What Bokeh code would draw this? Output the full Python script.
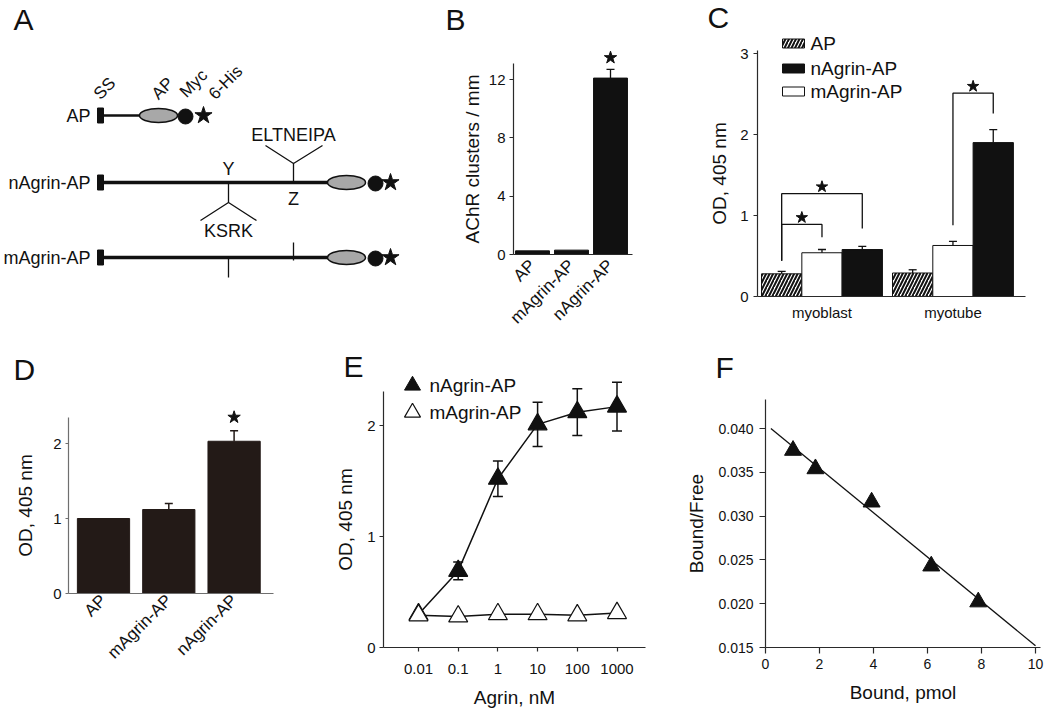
import math
from bokeh.plotting import figure
from bokeh.layouts import row, column
from bokeh.models import (Range1d, FixedTicker, NumeralTickFormatter,
                          LinearAxis, LogAxis)
from bokeh.core.properties import value
from bokeh.embed import file_html
from bokeh.resources import INLINE

FONT = "Liberation Sans"
INK = "#111111"
AXC = "#2a2a2a"

# ---------------- data ----------------
# Panel A (schematic of constructs)
constructs_A = ["AP", "nAgrin-AP", "mAgrin-AP"]
domains_A = ["SS", "AP", "Myc", "6-His"]
insert_sites_A = ["Y", "Z"]
insert_seqs_A = ["KSRK", "ELTNEIPA"]

# Panel B
cats_B = ["AP", "mAgrin-AP", "nAgrin-AP"]
clusters_B = [0.25, 0.30, 12.1]
clusters_err_B = [0.0, 0.0, 0.6]
signif_B = [False, False, True]
yticks_B = [0, 4, 8, 12]

# Panel C
groups_C = ["myoblast", "myotube"]
legend_C = ["AP", "nAgrin-AP", "mAgrin-AP"]
od_AP_C = [0.28, 0.29]
od_m_C = [0.54, 0.63]
od_n_C = [0.58, 1.90]
err_AP_C = [0.03, 0.04]
err_m_C = [0.04, 0.05]
err_n_C = [0.04, 0.16]
sig_group_C = [0, 0, 1]
sig_from_C = ["AP", "AP", "mAgrin-AP"]
sig_to_C = ["mAgrin-AP", "nAgrin-AP", "nAgrin-AP"]
sig_from_low_C = [0.44, 0.44, 0.88]
sig_top_C = [0.89, 1.27, 2.51]
sig_to_low_C = [0.73, 0.84, 2.26]
yticks_C = [0, 1, 2, 3]

# Panel D
cats_D = ["AP", "mAgrin-AP", "nAgrin-AP"]
od_D = [1.00, 1.12, 2.03]
od_err_D = [0.0, 0.08, 0.14]
signif_D = [False, False, True]
yticks_D = [0, 1, 2]

# Panel E
conc_E = [0.01, 0.1, 1, 10, 100, 1000]
conc_labels_E = ["0.01", "0.1", "1", "10", "100", "1000"]
n_od_E = [0.30, 0.69, 1.52, 2.01, 2.12, 2.17]
n_err_E = [0.0, 0.08, 0.16, 0.20, 0.21, 0.22]
m_od_E = [0.29, 0.28, 0.30, 0.30, 0.29, 0.31]
yticks_E = [0, 1, 2]

# Panel F
bound_F = [1.02, 1.85, 3.93, 6.14, 7.88]
ratio_F = [0.0375, 0.0354, 0.0316, 0.0243, 0.0202]
fit_x_F = [0.2, 10.0]
fit_y_F = [0.0400, 0.0152]
xticks_F = [0, 2, 4, 6, 8, 10]
yticks_F = [0.015, 0.020, 0.025, 0.030, 0.035, 0.040]


# ---------------- helpers ----------------
class Map:
    """Page-pixel placement of a panel: box and scale of its axes."""
    def __init__(self, box, xv0, xpx0, xppu, yv0, ypx0, yppu, logx=False):
        self.box, self.logx = box, logx
        self.xv0, self.xpx0, self.xppu = xv0, xpx0, xppu
        self.yv0, self.ypx0, self.yppu = yv0, ypx0, yppu

    def x(self, px):
        v = self.xv0 + (px - self.xpx0) / self.xppu
        return 10 ** v if self.logx else v

    def y(self, py):
        return self.yv0 + (self.ypx0 - py) / self.yppu

    def fig(self):
        l, t, r, b = self.box
        p = figure(frame_width=r - l, frame_height=b - t,
                   x_range=Range1d(self.x(l), self.x(r)),
                   y_range=Range1d(self.y(b), self.y(t)),
                   x_axis_type="log" if self.logx else "linear",
                   x_axis_location=None, y_axis_location=None,
                   min_border=0, toolbar_location=None, output_backend="svg")
        for g in p.grid:
            g.visible = False
        p.outline_line_color = None
        p.background_fill_color = "white"
        p.border_fill_color = "white"
        return p


def style_axis(ax, color=AXC, tick_font="15px", label_font="19px"):
    ax.axis_line_color = color
    ax.axis_line_width = 1.2
    ax.major_tick_line_color = color
    ax.major_tick_line_width = 1.2
    ax.minor_tick_line_color = None
    ax.major_tick_in = 0
    ax.major_tick_out = 4
    ax.major_label_text_font = FONT
    ax.major_label_text_font_size = tick_font
    ax.major_label_text_color = INK
    ax.axis_label_text_font = FONT
    ax.axis_label_text_font_style = "normal"
    ax.axis_label_text_font_size = label_font
    ax.axis_label_text_color = INK


def add_axes(p, xloc, xbounds, yloc, ybounds, log=False, color=AXC, tick_font="15px"):
    xa = (LogAxis if log else LinearAxis)(fixed_location=xloc, bounds=xbounds)
    ya = LinearAxis(fixed_location=yloc, bounds=ybounds)
    style_axis(xa, color, tick_font)
    style_axis(ya, color, tick_font)
    p.add_layout(xa, "below")
    p.add_layout(ya, "left")
    return xa, ya


def txt(p, x, y, t, size="18px", align="center", baseline="middle", angle=0.0, **kw):
    p.text(x=x, y=y, text=t, text_font=value(FONT), text_font_size=value(size),
           text_align=align, text_baseline=baseline, text_color=INK,
           angle=angle, **kw)


def letter(p, m, t, px, py):
    txt(p, [m.x(px)], [m.y(py)], [t], size="30px", align="left", baseline="middle")


TOP_H = 348  # height of the upper row of panels

# ---------------- Panel A ----------------
pA = figure(frame_width=438, frame_height=TOP_H, x_range=Range1d(0, 438),
            y_range=Range1d(TOP_H, 0), x_axis_location=None, y_axis_location=None,
            min_border=0, toolbar_location=None, output_backend="svg")
for g in pA.grid:
    g.visible = False
pA.outline_line_color = None
row_y = [115, 182, 257]
txt(pA, [90] * 3, row_y, constructs_A, align="right")
pA.rect(x=[100] * 3, y=row_y, width=6, height=15, color=INK)
pA.segment(x0=[103], y0=[row_y[0]], x1=[140], y1=[row_y[0]], line_width=2.5, color=INK)
pA.segment(x0=[103, 103], y0=row_y[1:], x1=[328, 328], y1=row_y[1:], line_width=3.5, color=INK)
pA.ellipse(x=[158, 346, 346], y=row_y, width=38, height=14,
           fill_color="#a8a8a8", line_color=INK, line_width=1.5)
pA.circle(x=[185, 375, 375], y=[y + 1 for y in row_y], radius=7.5, color=INK)
pA.scatter(x=[203, 390, 390], y=row_y, marker="star", size=18, color=INK)
pA.multi_line(xs=[[228, 228], [200, 228, 256], [293, 293], [265, 293, 322],
                  [228, 228], [293, 293]],
              ys=[[182, 202], [220, 202, 220], [182, 163], [145, 163, 145],
                  [257, 277], [242, 260]],
              line_width=1.3, color=INK)
txt(pA, [228, 293], [168, 198], insert_sites_A)
txt(pA, [228, 293], [230, 134], insert_seqs_A)
txt(pA, [96, 154, 182, 211], [96, 96, 94, 96], domains_A, size="17px",
    align="left", baseline="middle", angle=math.pi / 4)
txt(pA, [13], [18.5], ["A"], size="30px", align="left", baseline="middle")

# ---------------- Panel B ----------------
mB = Map((438, 0, 648, TOP_H), 1, 532, 39, 0, 254, 14.58)
pB = mB.fig()
xB = [i + 1 for i in range(len(cats_B))]
pB.vbar(x=xB, top=clusters_B, width=0.87, color=INK)
eb = [(x, v, e) for x, v, e in zip(xB, clusters_B, clusters_err_B) if e > 0]
pB.segment(x0=[a[0] for a in eb], y0=[a[1] for a in eb], x1=[a[0] for a in eb],
           y1=[a[1] + a[2] for a in eb], color=INK, line_width=1.3)
pB.scatter(x=[a[0] for a in eb], y=[a[1] + a[2] for a in eb], marker="dash",
           size=8, line_color=INK, line_width=1.3)
sB = [(x, v + e) for x, v, e, s in zip(xB, clusters_B, clusters_err_B, signif_B) if s]
pB.scatter(x=[a[0] for a in sB], y=[a[1] + 0.8 for a in sB], marker="star",
           size=13, color=INK)
xa, ya = add_axes(pB, 0, (mB.x(513), mB.x(632)), mB.x(513), (0, 13.1))
ya.ticker = FixedTicker(ticks=yticks_B)
ya.axis_label = "AChR clusters / mm"
ya.major_label_standoff = 4
ya.axis_label_standoff = 3
xa.ticker = FixedTicker(ticks=xB)
xa.major_label_overrides = {x: c for x, c in zip(xB, cats_B)}
xa.major_label_orientation = math.pi / 4
xa.major_tick_line_color = None
xa.major_label_text_font_size = "17px"
xa.major_label_standoff = 4
letter(pB, mB, "B", 445, 19)

# ---------------- Panel C ----------------
mC = Map((648, 0, 1050, TOP_H), 0, 757, 40.3, 0, 296, 81)
pC = mC.fig()
bar_order_C = ["AP", "mAgrin-AP", "nAgrin-AP"]
vals_C = {"AP": od_AP_C, "mAgrin-AP": od_m_C, "nAgrin-AP": od_n_C}
errs_C = {"AP": err_AP_C, "mAgrin-AP": err_m_C, "nAgrin-AP": err_n_C}
style_C = {
    "AP": dict(fill_color="white", hatch_pattern="/", hatch_color=INK,
               hatch_weight=2.0, hatch_scale=7),
    "mAgrin-AP": dict(fill_color="white"),
    "nAgrin-AP": dict(fill_color=INK),
}
pos_C = {name: [0.6 + g * 3.25 + k for g in range(len(groups_C))]
         for k, name in enumerate(bar_order_C)}
for name in bar_order_C:
    pC.vbar(x=pos_C[name], top=vals_C[name], width=1.0, line_color=INK,
            line_width=1.0, **style_C[name])
for name in bar_order_C:
    tops = [v + e for v, e in zip(vals_C[name], errs_C[name])]
    pC.segment(x0=pos_C[name], y0=vals_C[name], x1=pos_C[name], y1=tops,
               color=INK, line_width=1.3)
    pC.scatter(x=pos_C[name], y=tops, marker="dash", size=8, line_color=INK,
               line_width=1.3)
bxs, bys, sx, sy = [], [], [], []
for g, f, t, fl, tp, tl in zip(sig_group_C, sig_from_C, sig_to_C,
                               sig_from_low_C, sig_top_C, sig_to_low_C):
    xl, xr = pos_C[f][g], pos_C[t][g]
    bxs.append([xl, xl, xr, xr])
    bys.append([fl, tp, tp, tl])
    sx.append((xl + xr) / 2)
    sy.append(tp + 0.085)
pC.multi_line(xs=bxs, ys=bys, color=INK, line_width=1.3)
pC.scatter(x=sx, y=sy, marker="star", size=12, color=INK)
leg_x = mC.x(793)
leg_y = [mC.y(py) for py in (43, 68, 91)]
for name, ly in zip(legend_C, leg_y):
    pC.rect(x=[leg_x], y=[ly], width=22, height=9, width_units="screen",
            height_units="screen", line_color=INK, line_width=1.0, **style_C[name])
txt(pC, [leg_x] * 3, leg_y, legend_C, size="19px", align="left", x_offset=17)
xa, ya = add_axes(pC, 0, (0, mC.x(1025)), 0, (0, 3.04))
ya.ticker = FixedTicker(ticks=yticks_C)
ya.axis_label = "OD, 405 nm"
ya.major_label_standoff = 5
ya.axis_label_standoff = 7
gc = [sum(pos_C[n][g] for n in bar_order_C) / 3 for g in range(len(groups_C))]
xa.ticker = FixedTicker(ticks=gc)
xa.major_label_overrides = {x: gname for x, gname in zip(gc, groups_C)}
xa.major_tick_line_color = None
xa.major_label_standoff = 3
letter(pC, mC, "C", 707, 16.5)

# ---------------- Panel D ----------------
DCOL = "#231a17"
mD = Map((0, TOP_H, 308, 728), 1, 103, 65.3, 0, 593, 75)
pD = mD.fig()
xD = [i + 1 for i in range(len(cats_D))]
pD.vbar(x=xD, top=od_D, width=0.8, color=DCOL)
ebD = [(x, v, e) for x, v, e in zip(xD, od_D, od_err_D) if e > 0]
pD.segment(x0=[a[0] for a in ebD], y0=[a[1] for a in ebD], x1=[a[0] for a in ebD],
           y1=[a[1] + a[2] for a in ebD], color=DCOL, line_width=1.5)
pD.scatter(x=[a[0] for a in ebD], y=[a[1] + a[2] for a in ebD], marker="dash",
           size=8, line_color=DCOL, line_width=1.5)
sD = [(x, v + e) for x, v, e, s in zip(xD, od_D, od_err_D, signif_D) if s]
pD.scatter(x=[a[0] for a in sD], y=[a[1] + 0.18 for a in sD], marker="star",
           size=13, color=INK)
xa, ya = add_axes(pD, 0, (mD.x(68), mD.x(273)), mD.x(68), (0, 2.35), color="#6f6f6f")
ya.ticker = FixedTicker(ticks=yticks_D)
ya.axis_label = "OD, 405 nm"
ya.major_tick_out = 3
ya.major_label_standoff = 4
ya.axis_label_standoff = 14
xa.ticker = FixedTicker(ticks=xD)
xa.major_label_overrides = {x: c for x, c in zip(xD, cats_D)}
xa.major_label_orientation = math.pi / 4
xa.major_tick_line_color = None
xa.major_label_text_font_size = "17px"
xa.major_label_standoff = 0
letter(pD, mD, "D", 13, 368.5)

# ---------------- Panel E ----------------
mE = Map((308, TOP_H, 685, 728), -2, 418, 39.7, 0, 647, 111, logx=True)
pE = mE.fig()
pE.line(x=conc_E, y=n_od_E, color=INK, line_width=1.5)
pE.line(x=conc_E, y=m_od_E, color=INK, line_width=1.5)
ebE = [(x, v, e) for x, v, e in zip(conc_E, n_od_E, n_err_E) if e > 0]
pE.segment(x0=[a[0] for a in ebE], y0=[a[1] - a[2] for a in ebE],
           x1=[a[0] for a in ebE], y1=[a[1] + a[2] for a in ebE],
           color=INK, line_width=1.5)
pE.scatter(x=[a[0] for a in ebE] * 2,
           y=[a[1] + a[2] for a in ebE] + [a[1] - a[2] for a in ebE],
           marker="dash", size=10, line_color=INK, line_width=1.5)
pE.scatter(x=conc_E, y=n_od_E, marker="triangle", size=19, fill_color=INK,
           line_color=INK, line_width=1.2)
pE.scatter(x=conc_E, y=m_od_E, marker="triangle", size=19, fill_color="white",
           line_color=INK, line_width=1.2)
lgx = mE.x(412)
lgy = [mE.y(py) for py in (385, 412)]
pE.scatter(x=[lgx], y=[lgy[0]], marker="triangle", size=16, fill_color=INK,
           line_color=INK)
pE.scatter(x=[lgx], y=[lgy[1]], marker="triangle", size=16, fill_color="white",
           line_color=INK, line_width=1.2)
txt(pE, [lgx, lgx], lgy, ["nAgrin-AP", "mAgrin-AP"], size="19px", align="left",
    x_offset=17)
xa, ya = add_axes(pE, 0, (mE.x(383), mE.x(645)), mE.x(383), (0, 2.31), log=True)
ya.ticker = FixedTicker(ticks=yticks_E)
ya.axis_label = "OD, 405 nm"
ya.major_label_standoff = 4
ya.axis_label_standoff = 8
xa.ticker = FixedTicker(ticks=conc_E)
xa.major_label_overrides = {x: l for x, l in zip(conc_E, conc_labels_E)}
xa.axis_label = "Agrin, nM"
xa.major_label_standoff = 12
xa.axis_label_standoff = 10
letter(pE, mE, "E", 343, 366)

# ---------------- Panel F ----------------
mF = Map((685, TOP_H, 1050, 728), 0, 765, 27, 0.015, 647, 8760)
pF = mF.fig()
pF.line(x=fit_x_F, y=fit_y_F, color=INK, line_width=1.3)
pF.scatter(x=bound_F, y=ratio_F, marker="triangle", size=17, color=INK)
xa, ya = add_axes(pF, 0.015, (0, 10.2), 0, (0.015, 0.0433), tick_font="14px")
ya.ticker = FixedTicker(ticks=yticks_F)
ya.formatter = NumeralTickFormatter(format="0.000")
ya.axis_label = "Bound/Free"
ya.major_tick_out = 6
ya.major_label_standoff = 6
ya.axis_label_standoff = 8
xa.ticker = FixedTicker(ticks=xticks_F)
xa.axis_label = "Bound, pmol"
xa.major_tick_out = 6
xa.major_label_standoff = 5
xa.axis_label_standoff = 10
letter(pF, mF, "F", 715, 367)

layout = column(row(pA, pB, pC), row(pD, pE, pF))
open("out.html", "w").write(file_html(layout, INLINE))
